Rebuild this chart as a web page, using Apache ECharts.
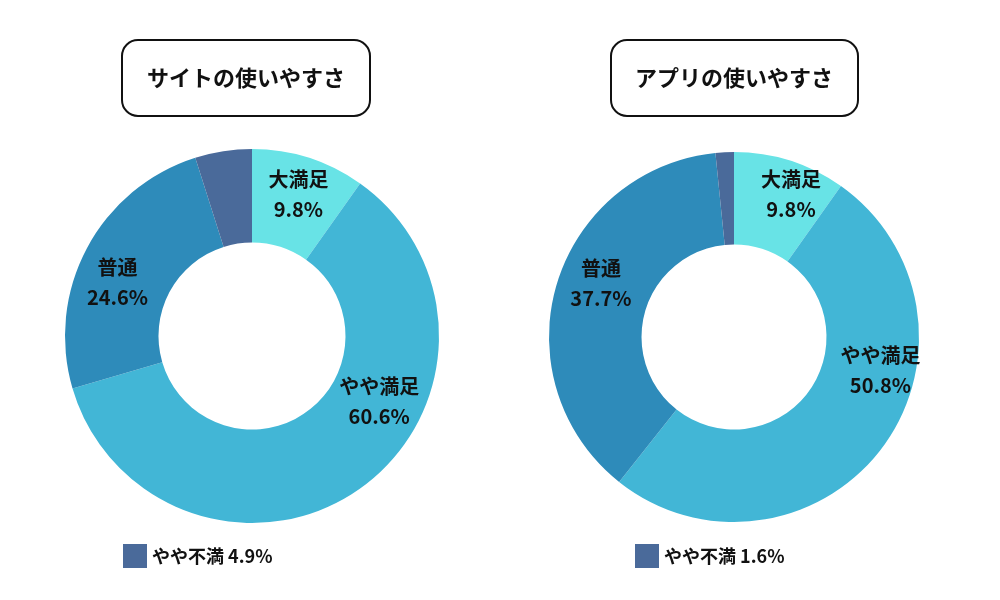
<!DOCTYPE html><html><head><meta charset="utf-8">
<script src="https://cdn.jsdelivr.net/npm/echarts@6/dist/echarts.min.js"></script>
<style>html,body{margin:0;background:#fff}#c{width:1000px;height:600px}</style></head><body><div id="c"></div>
<script>
const categories = ['大満足','やや満足','普通','やや不満'];
const siteValues = [9.8, 60.6, 24.6, 4.9];
const appValues = [9.8, 50.8, 37.7, 1.6];
const titles = ['サイトの使いやすさ','アプリの使いやすさ'];
const colors = ['#68e3e6','#42b6d6','#2e8bba','#4a6a9a'];
const F = '"Noto Sans CJK JP"';
const siteOffsets = [[3,-5],[44,-51],[-8,14],null];
const appOffsets = [[14,-8],[33,-52],[3,-14],null];
function mkData(vals, offs){
  return categories.map((c,i)=>({name:c,value:vals[i],itemStyle:{color:colors[i]},
    label: offs[i] ? {show:true,position:'inside',offset:offs[i]} : {show:false}}));
}
function series(vals, offs, cx, cy, r){
  return {type:'pie',radius:[r*0.5,r],center:[cx,cy],startAngle:90,clockwise:true,
    label:{formatter:p=>p.name+'\n'+p.value.toFixed(1)+'%',color:'#111',fontFamily:F,fontWeight:'bold',fontSize:20,lineHeight:30},
    labelLine:{show:false},emphasis:{disabled:true},data:mkData(vals,offs)};
}
const chart = echarts.init(document.getElementById('c'));
chart.setOption({
  animation:false,
  graphic:[
    {type:'rect',shape:{x:122,y:40,width:248,height:76,r:16},style:{fill:'#fff',stroke:'#111',lineWidth:2}},
    {type:'rect',shape:{x:611,y:40,width:247,height:76,r:16},style:{fill:'#fff',stroke:'#111',lineWidth:2}},
    {type:'text',x:246,y:78,style:{text:titles[0],fontFamily:F,fontWeight:'bold',fontSize:22,fill:'#111',align:'center',verticalAlign:'middle'}},
    {type:'text',x:734,y:78,style:{text:titles[1],fontFamily:F,fontWeight:'bold',fontSize:22,fill:'#111',align:'center',verticalAlign:'middle'}}
  ],
  legend:[
    {left:118,top:539,itemWidth:24,itemHeight:24,icon:'rect',data:[categories[3]],
     formatter:n=>n+' '+siteValues[3].toFixed(1)+'%',textStyle:{fontFamily:F,fontWeight:'bold',fontSize:18,color:'#111'},selectedMode:false},
    {left:630,top:539,itemWidth:24,itemHeight:24,icon:'rect',data:[categories[3]],
     formatter:n=>n+' '+appValues[3].toFixed(1)+'%',textStyle:{fontFamily:F,fontWeight:'bold',fontSize:18,color:'#111'},selectedMode:false}
  ],
  series:[series(siteValues,siteOffsets,252,336,187),series(appValues,appOffsets,734,337,185)]
});
</script></body></html>
